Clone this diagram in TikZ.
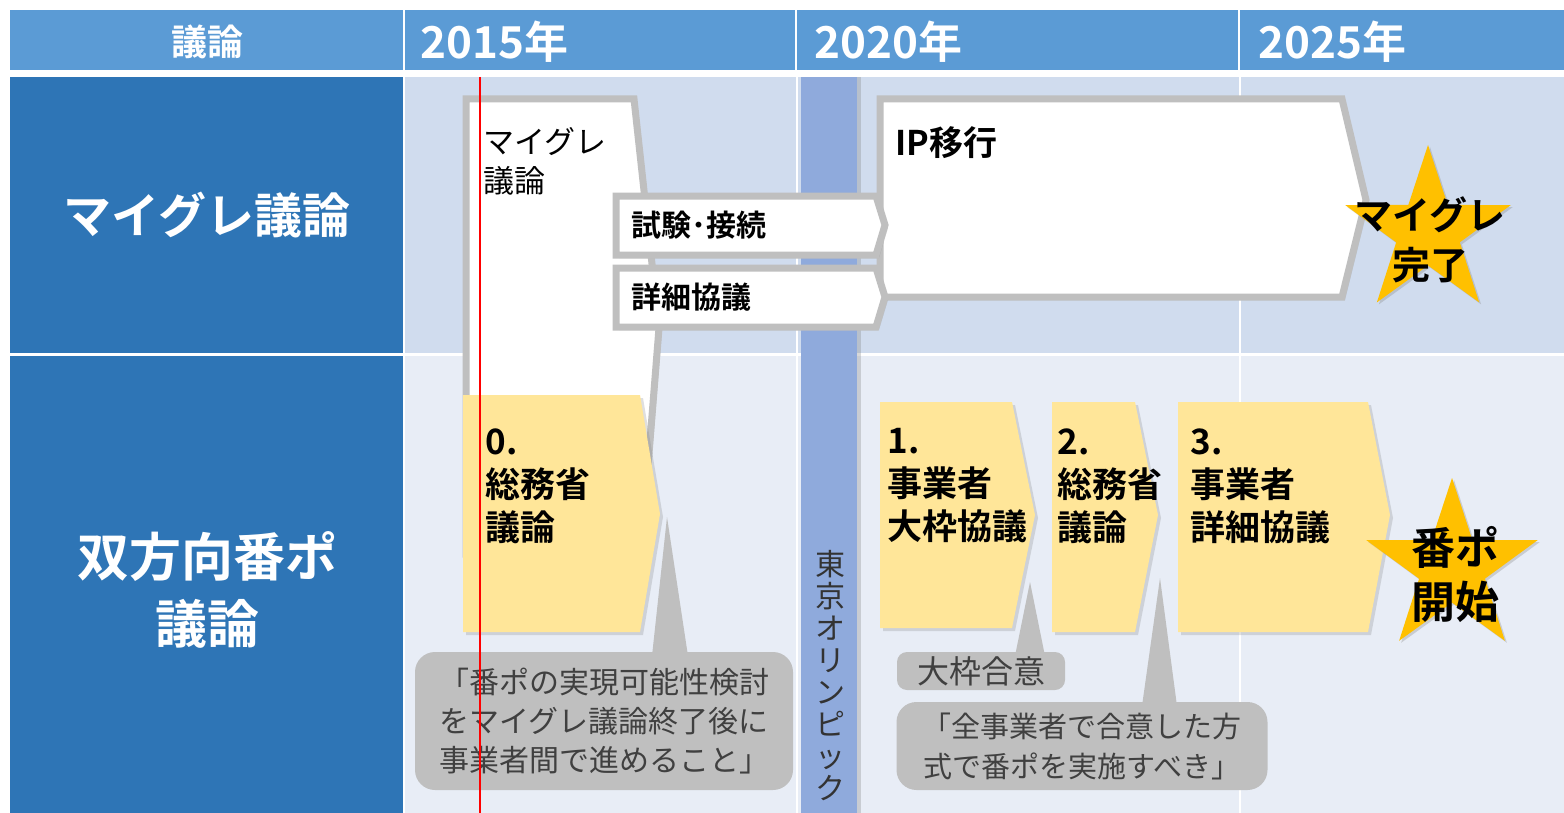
\documentclass[tikz,border=0pt]{standalone}
\usepackage{fontspec}
\setmainfont{Noto Sans CJK JP}[BoldFont=* Bold]
\usetikzlibrary{shapes.geometric,shadows}

\definecolor{headblue}{HTML}{5B9BD5}
\definecolor{rowblue}{HTML}{2E75B6}
\definecolor{lanetop}{HTML}{D0DCEE}
\definecolor{lanebottom}{HTML}{E8EDF6}
\definecolor{olympicblue}{HTML}{8FAADC}
\definecolor{framegrey}{HTML}{BFBFBF}
\definecolor{stepyellow}{HTML}{FFE699}
\definecolor{stargold}{HTML}{FFC000}
\definecolor{notetext}{HTML}{404040}

\begin{document}
\begin{tikzpicture}[x=0.5pt, y=-0.5pt,
	phasebox/.style={draw=framegrey, line width=3.5pt, fill=white, drop shadow={opacity=0.25, shadow xshift=1.5pt, shadow yshift=-1.5pt}},
	stepbox/.style={fill=stepyellow, drop shadow={opacity=0.25, shadow xshift=1.5pt, shadow yshift=-1.5pt}},
	steptext/.style={anchor=north west, align=left, inner sep=0pt, font=\bfseries\fontsize{17.5}{21.5}\selectfont},
	note/.style={fill=framegrey, rounded corners=10pt, text=notetext, align=center, inner sep=0pt},
	goalstar/.style={star, star points=5, star point ratio=2.6, fill=stargold, inner sep=0pt, drop shadow={opacity=0.3, shadow xshift=1pt, shadow yshift=-1pt}},
	goaltext/.style={align=center, inner sep=0pt, font=\bfseries\fontsize{20}{26}\selectfont},
	headtext/.style={text=white, inner sep=0pt, font=\bfseries\fontsize{22}{26}\selectfont}
]
	\useasboundingbox (0,0) rectangle (1564,813);
	\fill[white] (0,0) rectangle (1564,813);

	\fill[headblue] (10,10) rectangle (403,70);
	\fill[headblue] (405,10) rectangle (795,70);
	\fill[headblue] (797,10) rectangle (1238,70);
	\fill[headblue] (1240,10) rectangle (1564,70);
	\node[headtext, font=\bfseries\fontsize{18}{22}\selectfont] (hdtopic) at (207,42) {議論};
	\node[headtext, anchor=west] (hd2015) at (420,42) {2015年};
	\node[headtext, anchor=west] (hd2020) at (814,42) {2020年};
	\node[headtext, anchor=west] (hd2025) at (1258,42) {2025年};

	\fill[rowblue] (10,77) rectangle (403,353);
	\fill[rowblue] (10,356) rectangle (403,813);
	\fill[lanetop] (405,77) rectangle (1564,353);
	\fill[lanebottom] (405,356) rectangle (1564,813);
	\draw[white, line width=1pt] (797,77) -- (797,813) (1240,77) -- (1240,813);
	\node[text=white, font=\bfseries\fontsize{24}{30}\selectfont] (lanemigr) at (207,215) {マイグレ議論};
	\node[text=white, align=center, font=\bfseries\fontsize{26}{33.5}\selectfont] (laneport) at (207,590) {双方向番ポ\\議論};

	\fill[olympicblue, drop shadow={opacity=0.3, shadow xshift=2pt, shadow yshift=0pt}] (801,77) rectangle (857,813);
	\node[anchor=north, align=center, inner sep=0pt, text=black!80, font=\fontsize{15}{16}\selectfont] (olympic) at (830,550) {東\\京\\オ\\リ\\ン\\ピ\\ッ\\ク};

	\draw[phasebox] (466,99) -- (634,99) -- (659,328) -- (641,554) -- (466,554) -- cycle;
	\node[steptext, font=\fontsize{15.5}{19.5}\selectfont] (migrtxt) at (483,127) {マイグレ\\議論};

	\draw[phasebox] (880,99) -- (1342,99) -- (1366,200) -- (1342,297) -- (880,297) -- cycle;
	\node[steptext, anchor=west, font=\bfseries\fontsize{17}{20}\selectfont] (iptxt) at (895,143) {IP移行};

	\draw[phasebox] (616,196) -- (876,196) -- (885,225) -- (876,255) -- (616,255) -- cycle;
	\node[steptext, anchor=west, font=\bfseries\fontsize{15}{18}\selectfont] (testtxt) at (631,225) {試験･接続};
	\draw[phasebox] (616,268) -- (876,268) -- (885,297) -- (876,327) -- (616,327) -- cycle;
	\node[steptext, anchor=west, font=\bfseries\fontsize{15}{18}\selectfont] (detailtxt) at (631,297) {詳細協議};

	\node[goalstar, minimum size=87pt] (goalmigr) at (1428,232) {};
	\node[goaltext, font=\bfseries\fontsize{19}{25}\selectfont] (goalmigrtxt) at (1430,240) {マイグレ\\完了};

	\fill[stepbox] (463,395) -- (640,395) -- (660,514) -- (640,632) -- (463,632) -- cycle;
	\node[steptext] (step0) at (485,428) {0.\\総務省\\議論};
	\fill[stepbox] (880,402) -- (1012,402) -- (1035,515) -- (1012,628) -- (880,628) -- cycle;
	\node[steptext] (step1) at (887,428) {1.\\事業者\\大枠協議};
	\fill[stepbox] (1052,402) -- (1135,402) -- (1158,515) -- (1135,632) -- (1052,632) -- cycle;
	\node[steptext] (step2) at (1057,428) {2.\\総務省\\議論};
	\fill[stepbox] (1178,402) -- (1368,402) -- (1390,515) -- (1368,632) -- (1178,632) -- cycle;
	\node[steptext] (step3) at (1190,428) {3.\\事業者\\詳細協議};

	\node[goalstar, minimum size=90pt] (goalport) at (1452,568) {};
	\node[goaltext, font=\bfseries\fontsize{22}{27}\selectfont] (goalporttxt) at (1455,575) {番ポ\\開始};

	\coordinate (tip0) at (667,517);
	\coordinate (tip1) at (1030,582);
	\coordinate (tip2) at (1160,578);
	\node[note, minimum width=189pt, minimum height=69pt, font=\fontsize{15}{19.5}\selectfont] (note0) at (604,721) {「番ポの実現可能性検討\\をマイグレ議論終了後に\\事業者間で進めること」};
	\fill[framegrey] (tip0) -- (652,656) -- (688,656) -- cycle;
	\node[note, rounded corners=5pt, minimum width=84pt, minimum height=19pt, font=\fontsize{16}{19}\selectfont] (note1) at (981,671) {大枠合意};
	\fill[framegrey] (tip1) -- (1015,656) -- (1045,656) -- cycle;
	\node[note, minimum width=185.5pt, minimum height=44pt, font=\fontsize{14.5}{20}\selectfont] (note2) at (1082,746) {「全事業者で合意した方\\式で番ポを実施すべき」};
	\fill[framegrey] (tip2) -- (1142,706) -- (1177,706) -- cycle;

	\draw[red, line width=0.8pt] (480,77) -- (480,813);
\end{tikzpicture}
\end{document}
